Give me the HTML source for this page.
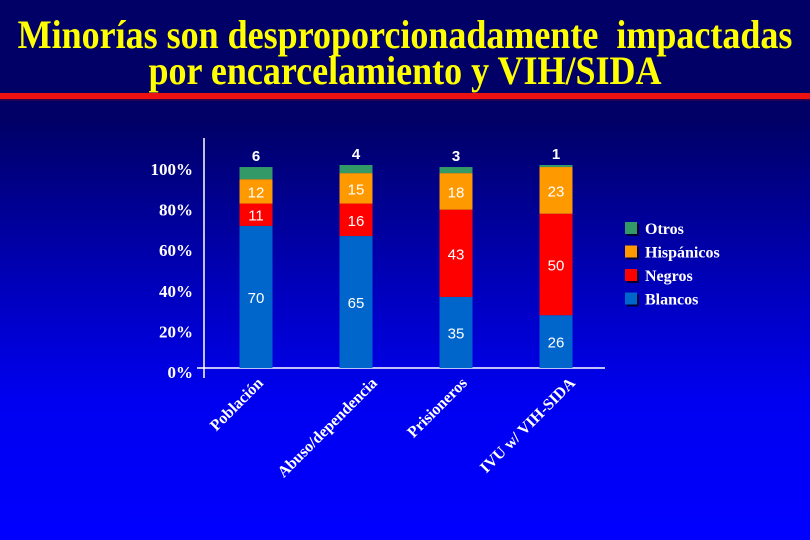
<!DOCTYPE html>
<html><head><meta charset="utf-8"><style>
html,body{margin:0;padding:0}
body{width:810px;height:540px;overflow:hidden;background:linear-gradient(to bottom,#000066 0px,#000066 120px,#0000b8 280px,#0000f0 400px,#0000ff 540px);position:relative;font-family:"Liberation Serif",serif}
.title{position:absolute;left:-40px;width:890px;text-align:center;color:#ffff00;font-weight:bold;font-size:40px;line-height:36px;transform:scaleX(0.9);transform-origin:center}
.rule{position:absolute;left:0;top:93px;width:810px;height:6px;background:#ee1111;box-shadow:0 1px 2px #550033}
svg{position:absolute;left:0;top:0}
</style></head><body>
<div class="title" style="top:17px">Minorías son desproporcionadamente&nbsp; impactadas<br>por encarcelamiento y VIH/SIDA</div>
<div class="rule"></div>
<svg id="chart" width="810" height="540"></svg>
<script>
const categories=["Población","Abuso/dependencia","Prisioneros","IVU w/ VIH-SIDA"];
const blancos=[70,65,35,26];
const negros=[11,16,43,50];
const hispanicos=[12,15,18,23];
const otros=[6,4,3,1];
const yTicks=[0,20,40,60,80,100];
const seriesNames=["Otros","Hispánicos","Negros","Blancos"];
const colors={Blancos:"#0066cc",Negros:"#ff0000","Hispánicos":"#ff9900",Otros:"#339966"};
const labelShift=[8,22,12,20];
const NS="http://www.w3.org/2000/svg";
const svg=document.getElementById('chart');
const y0=368,k=2.03,x0=256,dx=100,bw=33;
const Y=v=>y0-v*k;
const X=i=>x0+i*dx;
function mk(t,a,txt){const e=document.createElementNS(NS,t);for(const n in a)e.setAttribute(n,a[n]);if(txt!=null)e.textContent=txt;svg.appendChild(e);return e;}
let e=mk('line',{x1:204,y1:138,x2:204,y2:378,stroke:'#fff','stroke-width':1.5});


e=mk('line',{x1:197,y1:y0,x2:605,y2:y0,stroke:'#fff','stroke-width':1.5});


yTicks.forEach(t=>{
  const l=mk('text',{x:193,y:Y(t)+10,'text-anchor':'end',fill:'#fff','font-size':17,'font-weight':'bold','font-family':'Liberation Serif,serif'},t+'%');
  
  
});
const stacks=[["Blancos",blancos],["Negros",negros],["Hispánicos",hispanicos],["Otros",otros]];
categories.forEach((c,i)=>{
  let base=0;
  stacks.forEach(([name,arr])=>{
    const v=arr[i];
    const r=mk('rect',{x:X(i)-bw/2,y:Y(base+v),width:bw,height:v*k,fill:colors[name]});
    
    
    const ty=name==="Otros"?Y(base+v)-6:Y(base+v/2)+6;
    const t=mk('text',{x:X(i),y:ty,'text-anchor':'middle',fill:'#fff','font-size':15,'font-family':'Liberation Sans,sans-serif','font-weight':name==="Otros"?'bold':'normal'},v);
    
    
    base+=v;
  });
  const lx=X(i)+labelShift[i], ly=y0+16;
  const lab=mk('text',{x:lx,y:ly,'text-anchor':'end',fill:'#fff','font-size':16,'font-weight':'bold','font-family':'Liberation Serif,serif',transform:`rotate(-45 ${lx} ${ly})`},c);
  
  
});
seriesNames.forEach((n,j)=>{
  const yy=223+j*23.5;
  mk('rect',{x:627,y:yy+1,width:12,height:12,fill:'#000033'});
  const s=mk('rect',{x:625,y:yy-1,width:12,height:12,fill:colors[n]});
  
  
  const t=mk('text',{x:645,y:yy+11,fill:'#fff','font-size':16,'font-weight':'bold','font-family':'Liberation Serif,serif'},n);
  
  
});
</script>
</body></html>
